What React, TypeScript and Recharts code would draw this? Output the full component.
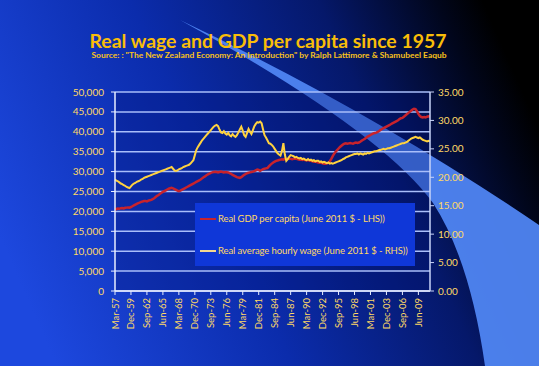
import React from 'react';
import { LineChart, Line, XAxis, YAxis, CartesianGrid, Legend } from 'recharts';

const quarterNames = ['Mar', 'Jun', 'Sep', 'Dec'];
const firstYear = 1957;
const quarterCount = 218;
const categories: string[] = [];
for (let i = 0; i < quarterCount; i++) {
  const yr = (firstYear + Math.floor(i / 4)) % 100;
  categories.push(`${quarterNames[i % 4]}-${String(yr).padStart(2, '0')}`);
}

const gdpPerCapita = [
  20450, 20600, 20700, 20650, 20800, 20850, 20750, 20900, 20950, 21000, 20950, 21100,
  21300, 21500, 21700, 21900, 22100, 22200, 22400, 22500, 22600,
  22600, 22500, 22700, 22800, 22900,
  23100, 23300, 23600, 23900, 24100, 24400, 24700, 24900, 25100, 25300, 25500, 25700, 25800, 25900,
  25800, 25600, 25400, 25200, 25100,
  25200, 25400, 25600, 25800, 26000, 26200, 26400, 26600, 26800, 27000, 27200, 27400,
  27600, 27800, 28000, 28300, 28600, 28800, 29100, 29300, 29500, 29700, 29800, 29900, 29950,
  29900, 29800, 29900, 30000, 29900, 29800, 29900, 29850, 29800,
  29600, 29400, 29200, 29000, 28800, 28600, 28500, 28400,
  28600, 28900, 29200, 29400, 29600, 29700, 29800, 29900,
  30000, 30100, 30300, 30500, 30400, 30200, 30400, 30600, 30700, 30800, 30900,
  31300, 31700, 32000, 32300, 32500, 32700, 32800,
  32900, 33000, 33100, 33000, 33200, 33100, 33200, 33300, 33200, 33100, 33200, 33300, 33200,
  33100, 33000, 33000, 32900, 33000, 32900, 32800, 32900, 32800,
  32700, 32600, 32500, 32500, 32400, 32300, 32200, 32200, 32100, 32000, 32000, 32100, 32200,
  32600, 33200, 33900, 34500, 35000, 35400, 35800, 36200, 36500, 36800, 37000, 37100,
  37000, 37100, 37200, 37100, 37000, 37200, 37300, 37200, 37300,
  37500, 37800, 38000, 38200, 38500, 38800, 39000, 39200, 39400, 39600, 39700, 39800,
  40000, 40200, 40500, 40700, 40900, 41100, 41300, 41500, 41700, 41900, 42100, 42300,
  42500, 42700, 42900, 43200, 43400, 43500, 43800, 44100, 44400, 44700, 45000, 45300, 45600,
  45800, 45700, 45200, 44500, 44000, 43700, 43600, 43700, 43600, 43800, 43900, 43800,
];

const realWage = [
  19.6, 19.4, 19.3, 19.1, 18.9, 18.8, 18.6, 18.5, 18.3, 18.2, 18.1,
  18.4, 18.7, 18.9, 19.0, 19.2, 19.3,
  19.4, 19.6, 19.7, 19.9, 20.0, 20.1, 20.2, 20.3, 20.4,
  20.5, 20.6, 20.7, 20.8, 20.9, 21.0, 21.1,
  21.2, 21.3, 21.4, 21.5, 21.6, 21.7, 21.8,
  21.5, 21.2, 21.1,
  21.2, 21.4, 21.5, 21.6, 21.8, 21.9, 22.0, 22.1, 22.2,
  22.4, 22.7, 23.0, 23.9, 24.8,
  25.3, 25.7, 26.1, 26.5, 26.8, 27.1, 27.4, 27.7, 28.0, 28.3, 28.6, 28.9, 29.1, 29.2, 29.0,
  28.4, 27.9, 27.8, 28.1, 27.7, 27.5, 27.8, 27.4, 27.2, 27.6, 27.3, 27.1,
  27.4, 27.9, 28.4, 28.9, 28.2, 27.4, 27.1, 27.8, 28.5, 28.0, 27.6, 28.3,
  29.0, 29.4, 29.7, 29.6, 29.8, 29.5,
  28.4, 27.4, 27.0, 26.5, 26.0, 25.9, 25.7, 25.4, 25.0, 24.6, 24.2,
  24.0, 23.8, 24.6, 26.0, 24.0, 22.9,
  23.2, 23.6, 23.9, 23.8, 23.7, 23.5, 23.6, 23.4, 23.3,
  23.4, 23.2, 23.3, 23.1, 23.0, 23.2, 23.0, 23.1, 22.9, 23.0, 22.8, 22.9, 22.9, 22.7, 22.8, 22.6,
  22.7, 22.6, 22.5, 22.6, 22.4, 22.5, 22.4,
  22.5, 22.6, 22.7, 22.8, 22.9, 23.0, 23.2, 23.3, 23.5, 23.6, 23.7, 23.8, 23.9, 24.0, 24.1, 24.1, 24.2,
  24.0, 24.2, 24.1, 24.0, 24.2, 24.1, 24.3, 24.2,
  24.3, 24.4, 24.5, 24.6, 24.6, 24.7, 24.8, 24.8, 24.9, 25.0, 24.9, 25.0, 25.1, 25.1,
  25.2, 25.3, 25.4, 25.5, 25.6, 25.7, 25.8, 25.9, 26.0, 26.0, 26.1, 26.2,
  26.4, 26.6, 26.8, 26.9, 27.0, 27.1, 27.0, 26.9, 27.0, 26.8, 26.6, 26.5, 26.4, 26.3, 26.4, 26.3,
];

const leftTicks = [0, 5000, 10000, 15000, 20000, 25000, 30000, 35000, 40000, 45000, 50000];
const rightTicks = [0, 5, 10, 15, 20, 25, 30, 35];

const titleText = 'Real wage and GDP per capita since 1957';
const subtitleText = 'Source: : "The New Zealand Economy: An Introduction" by Ralph Lattimore & Shamubeel Eaqub';
const gdpLabel = 'Real GDP per capita (June 2011 $ - LHS))';
const wageLabel = 'Real average hourly wage (June 2011 $ - RHS))';

const data = categories.map((c, i) => ({ q: c, gdp: gdpPerCapita[i], wage: realWage[i] }));

const FONT = 'Lato, "Open Sans", sans-serif';
const LABEL = '#ffd966';
const RED = '#c8232c';
const YELLOW = '#ffd23f';

const XTick = (props: any) => {
  const { x, y, payload } = props;
  return (
    <text
      x={x}
      y={y}
      dy={3.5}
      transform={`rotate(-90 ${x} ${y})`}
      textAnchor="end"
      fill={LABEL}
      fontSize={9.5}
      fontFamily={FONT}
    >
      {payload.value}
    </text>
  );
};

const LegendBox = () => (
  <div
    style={{
      width: 220,
      height: 63,
      background: '#0f37d8',
      fontFamily: FONT,
      fontSize: 9.5,
      letterSpacing: -0.1,
      color: LABEL,
      position: 'relative',
      whiteSpace: 'nowrap',
    }}
  >
    <div style={{ position: 'absolute', left: 5, top: 10, display: 'flex', alignItems: 'center' }}>
      <span style={{ display: 'inline-block', width: 16, height: 2, background: RED, marginRight: 2 }} />
      <span>{gdpLabel}</span>
    </div>
    <div style={{ position: 'absolute', left: 5, top: 42, display: 'flex', alignItems: 'center' }}>
      <span style={{ display: 'inline-block', width: 16, height: 2, background: '#f3d890', marginRight: 2 }} />
      <span>{wageLabel}</span>
    </div>
  </div>
);

export default function App() {
  return (
    <div style={{ position: 'absolute', left: 0, top: 0, width: 539, height: 366, overflow: 'hidden' }}>
      <svg width={539} height={366} style={{ position: 'absolute', left: 0, top: 0 }}>
        <defs>
          <linearGradient id="bg" x1="0" y1="0.65" x2="1" y2="0.35">
            <stop offset="0" stopColor="#1d48de" />
            <stop offset="0.4" stopColor="#0b2cac" />
            <stop offset="0.72" stopColor="#05186a" />
            <stop offset="0.92" stopColor="#01061c" />
            <stop offset="1" stopColor="#000000" />
          </linearGradient>
        </defs>
        <rect x={0} y={0} width={539} height={366} fill="url(#bg)" />
        <path
          d="M 180,20 Q 370,110 539,225 L 539,366 L 485,366 Q 470,260 433,203 Q 380,130 180,20 Z"
          fill="#4f85f2"
          opacity={0.95}
        />
        <text
          x={268}
          y={48}
          textAnchor="middle"
          fontFamily={FONT}
          fontWeight={700}
          fontSize={19}
          fill="#f9bd08"
          textLength={357}
          lengthAdjust="spacingAndGlyphs"
        >
          {titleText}
        </text>
        <text
          x={269}
          y={58}
          textAnchor="middle"
          fontFamily={FONT}
          fontWeight={700}
          fontSize={7.5}
          fill="#f9c21a"
          textLength={355}
          lengthAdjust="spacingAndGlyphs"
        >
          {subtitleText}
        </text>
      </svg>
      <div style={{ position: 'absolute', left: 0, top: 0 }}>
        <LineChart width={539} height={366} data={data} margin={{ top: 92, right: 0, bottom: 0, left: 0 }}>
          <CartesianGrid
            vertical={false}
            yAxisId="left"
            stroke="#a9befa"
            strokeWidth={1.5}
            fill="#001070"
            fillOpacity={0.3}
          />
          <XAxis
            dataKey="q"
            interval={10}
            height={75}
            tick={<XTick />}
            tickSize={4}
            tickMargin={3}
            stroke="#e8eeff"
            tickLine={{ stroke: '#e8eeff' }}
            axisLine={{ stroke: '#e8eeff', strokeWidth: 1.5 }}
          />
          <YAxis
            yAxisId="left"
            orientation="left"
            width={115}
            domain={[0, 50000]}
            ticks={leftTicks}
            interval={0}
            tickFormatter={(v: number) => v.toLocaleString('en-US')}
            tick={{ fill: LABEL, fontSize: 10, fontFamily: FONT }}
            tickSize={4}
            tickMargin={7}
            axisLine={{ stroke: '#e8eeff', strokeWidth: 1.5 }}
            tickLine={{ stroke: '#e8eeff' }}
          />
          <YAxis
            yAxisId="right"
            orientation="right"
            width={109}
            domain={[0, 35]}
            ticks={rightTicks}
            interval={0}
            tickFormatter={(v: number) => v.toFixed(2)}
            tick={{ fill: LABEL, fontSize: 10, fontFamily: FONT }}
            tickSize={4}
            tickMargin={4}
            axisLine={{ stroke: '#c8d4f8', strokeWidth: 1.5 }}
            tickLine={{ stroke: '#c8d4f8' }}
          />
          <Legend
            layout="vertical"
            align="center"
            verticalAlign="middle"
            content={() => <LegendBox />}
            wrapperStyle={{ left: 195, top: 203, width: 220, height: 63 }}
          />
          <Line
            yAxisId="left"
            type="linear"
            dataKey="gdp"
            stroke={RED}
            strokeWidth={2.5}
            dot={false}
            isAnimationActive={false}
          />
          <Line
            yAxisId="right"
            type="linear"
            dataKey="wage"
            stroke={YELLOW}
            strokeWidth={2}
            dot={false}
            isAnimationActive={false}
          />
        </LineChart>
      </div>
    </div>
  );
}
